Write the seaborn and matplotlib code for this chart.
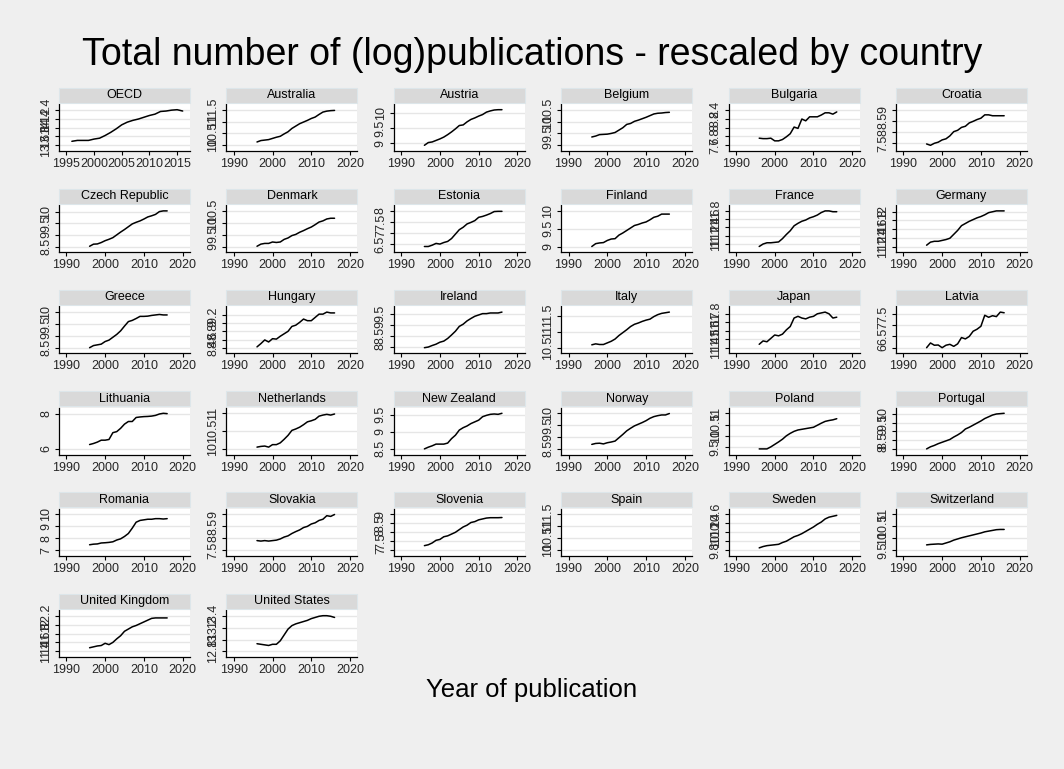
import numpy as np
import pandas as pd
import matplotlib
matplotlib.use("Agg")
import matplotlib.pyplot as plt
from matplotlib.patches import Rectangle
import seaborn as sns

# ---------------------------------------------------------------------------
# Data: log number of publications per year, 1996-2016
# ---------------------------------------------------------------------------
years = list(range(1996, 2017))

countries = [
    "OECD", "Australia", "Austria", "Belgium", "Bulgaria", "Croatia",
    "Czech Republic", "Denmark", "Estonia", "Finland", "France", "Germany",
    "Greece", "Hungary", "Ireland", "Italy", "Japan", "Latvia",
    "Lithuania", "Netherlands", "New Zealand", "Norway", "Poland", "Portugal",
    "Romania", "Slovakia", "Slovenia", "Spain", "Sweden", "Switzerland",
    "United Kingdom", "United States",
]

oecd = [13.69, 13.71, 13.71, 13.71, 13.74, 13.76, 13.82, 13.89, 13.97, 14.06, 14.12,
        14.16, 14.19, 14.23, 14.27, 14.30, 14.36, 14.37, 14.39, 14.40, 14.37]
australia = [10.14, 10.20, 10.22, 10.24, 10.29, 10.34, 10.38, 10.48, 10.57, 10.71, 10.81,
             10.91, 10.98, 11.05, 11.13, 11.19, 11.30, 11.40, 11.44, 11.46, 11.47]
austria = [8.93, 9.02, 9.04, 9.09, 9.14, 9.20, 9.28, 9.37, 9.47, 9.58, 9.60,
           9.70, 9.78, 9.83, 9.89, 9.94, 10.02, 10.06, 10.09, 10.10, 10.10]
belgium = [9.35, 9.39, 9.45, 9.46, 9.47, 9.50, 9.54, 9.64, 9.74, 9.88, 9.92,
           10.01, 10.06, 10.12, 10.18, 10.25, 10.32, 10.35, 10.36, 10.38, 10.39]
bulgaria = [7.76, 7.75, 7.75, 7.76, 7.70, 7.70, 7.73, 7.79, 7.86, 8.01, 7.98,
            8.19, 8.15, 8.24, 8.24, 8.24, 8.28, 8.33, 8.33, 8.30, 8.35]
croatia = [7.47, 7.41, 7.50, 7.55, 7.65, 7.70, 7.83, 8.02, 8.08, 8.21, 8.26,
           8.41, 8.48, 8.56, 8.62, 8.77, 8.77, 8.73, 8.73, 8.73, 8.73]
czech_republic = [8.51, 8.60, 8.61, 8.67, 8.75, 8.81, 8.88, 9.00, 9.12, 9.23, 9.35,
                  9.47, 9.54, 9.60, 9.68, 9.77, 9.82, 9.88, 10.00, 10.03, 10.03]
denmark = [9.01, 9.10, 9.13, 9.13, 9.19, 9.17, 9.19, 9.30, 9.36, 9.46, 9.51,
           9.60, 9.67, 9.75, 9.82, 9.92, 10.03, 10.08, 10.16, 10.19, 10.19]
estonia = [6.39, 6.39, 6.45, 6.53, 6.50, 6.57, 6.62, 6.75, 6.95, 7.15, 7.26,
           7.41, 7.48, 7.56, 7.71, 7.75, 7.81, 7.88, 7.97, 7.98, 7.98]
finland = [9.00, 9.08, 9.10, 9.11, 9.17, 9.21, 9.22, 9.32, 9.38, 9.45, 9.52,
           9.59, 9.62, 9.66, 9.69, 9.75, 9.82, 9.85, 9.91, 9.91, 9.91]
france = [10.94, 11.00, 11.03, 11.03, 11.04, 11.05, 11.13, 11.23, 11.32, 11.44, 11.50,
          11.55, 11.58, 11.63, 11.66, 11.70, 11.76, 11.80, 11.80, 11.78, 11.78]
germany = [11.23, 11.30, 11.32, 11.32, 11.34, 11.36, 11.39, 11.48, 11.57, 11.68, 11.73,
           11.78, 11.82, 11.86, 11.89, 11.93, 11.98, 12.00, 12.02, 12.02, 12.02]
greece = [8.50, 8.59, 8.62, 8.65, 8.76, 8.82, 8.94, 9.06, 9.21, 9.41, 9.60,
          9.65, 9.73, 9.82, 9.82, 9.83, 9.86, 9.88, 9.90, 9.88, 9.88]
hungary = [8.42, 8.50, 8.59, 8.54, 8.62, 8.61, 8.68, 8.74, 8.80, 8.92, 8.95,
           9.02, 9.10, 9.06, 9.06, 9.14, 9.22, 9.22, 9.27, 9.25, 9.25]
ireland = [7.95, 7.98, 8.05, 8.11, 8.20, 8.25, 8.37, 8.53, 8.70, 8.92, 9.02,
           9.17, 9.28, 9.38, 9.44, 9.50, 9.50, 9.53, 9.53, 9.53, 9.57]
italy = [10.59, 10.62, 10.60, 10.60, 10.65, 10.70, 10.77, 10.88, 10.97, 11.06, 11.16,
         11.23, 11.27, 11.32, 11.36, 11.39, 11.47, 11.53, 11.57, 11.59, 11.61]
japan = [11.44, 11.48, 11.47, 11.51, 11.55, 11.54, 11.56, 11.61, 11.65, 11.75, 11.77,
         11.75, 11.74, 11.76, 11.77, 11.80, 11.81, 11.82, 11.80, 11.75, 11.76]
latvia = [6.00, 6.21, 6.11, 6.12, 6.00, 6.11, 6.15, 6.06, 6.17, 6.45, 6.39,
          6.50, 6.73, 6.82, 6.95, 7.44, 7.35, 7.42, 7.38, 7.58, 7.55]
lithuania = [6.25, 6.31, 6.39, 6.50, 6.50, 6.54, 6.93, 6.99, 7.18, 7.42, 7.57,
             7.57, 7.80, 7.83, 7.85, 7.86, 7.88, 7.92, 8.00, 8.04, 8.02]
netherlands = [10.05, 10.07, 10.08, 10.05, 10.12, 10.12, 10.17, 10.27, 10.38, 10.52, 10.56,
               10.61, 10.68, 10.76, 10.79, 10.83, 10.92, 10.95, 10.97, 10.95, 10.98]
new_zealand = [8.50, 8.55, 8.59, 8.64, 8.64, 8.64, 8.67, 8.80, 8.90, 9.05, 9.12,
               9.17, 9.24, 9.29, 9.34, 9.44, 9.48, 9.51, 9.52, 9.51, 9.54]
norway = [8.69, 8.73, 8.74, 8.71, 8.76, 8.79, 8.83, 8.97, 9.11, 9.26, 9.37,
          9.47, 9.54, 9.61, 9.69, 9.79, 9.86, 9.90, 9.93, 9.93, 9.99]
poland = [9.42, 9.42, 9.42, 9.51, 9.62, 9.73, 9.85, 10.00, 10.11, 10.20, 10.26,
          10.29, 10.32, 10.35, 10.38, 10.47, 10.56, 10.64, 10.68, 10.71, 10.76]
portugal = [8.00, 8.12, 8.20, 8.30, 8.38, 8.46, 8.54, 8.68, 8.80, 8.94, 9.14,
            9.24, 9.36, 9.48, 9.60, 9.74, 9.84, 9.94, 10.00, 10.02, 10.04]
romania = [7.45, 7.50, 7.52, 7.60, 7.62, 7.65, 7.70, 7.85, 7.95, 8.15, 8.40,
           8.85, 9.35, 9.50, 9.55, 9.60, 9.60, 9.65, 9.65, 9.62, 9.65]
slovakia = [7.90, 7.88, 7.90, 7.88, 7.90, 7.92, 7.97, 8.05, 8.10, 8.20, 8.28,
            8.35, 8.45, 8.50, 8.60, 8.65, 8.75, 8.80, 8.95, 8.92, 9.00]
slovenia = [7.25, 7.30, 7.40, 7.55, 7.60, 7.75, 7.80, 7.90, 8.00, 8.15, 8.30,
            8.40, 8.55, 8.60, 8.70, 8.75, 8.80, 8.82, 8.82, 8.82, 8.83]
spain = [np.nan] * 21
sweden = [9.85, 9.88, 9.90, 9.91, 9.92, 9.93, 9.97, 10.00, 10.05, 10.10, 10.13,
          10.17, 10.22, 10.27, 10.32, 10.38, 10.43, 10.50, 10.54, 10.56, 10.58]
switzerland = [9.72, 9.74, 9.75, 9.76, 9.75, 9.80, 9.85, 9.92, 9.97, 10.02, 10.06,
               10.10, 10.14, 10.18, 10.22, 10.27, 10.30, 10.33, 10.36, 10.37, 10.37]
united_kingdom = [11.48, 11.50, 11.52, 11.53, 11.58, 11.55, 11.60, 11.68, 11.75, 11.85, 11.90,
                  11.95, 11.98, 12.02, 12.06, 12.10, 12.14, 12.15, 12.15, 12.15, 12.15]
united_states = [12.93, 12.92, 12.91, 12.90, 12.92, 12.92, 12.98, 13.08, 13.18, 13.24, 13.27,
                 13.29, 13.31, 13.33, 13.36, 13.38, 13.40, 13.41, 13.41, 13.40, 13.38]

series = [oecd, australia, austria, belgium, bulgaria, croatia,
          czech_republic, denmark, estonia, finland, france, germany,
          greece, hungary, ireland, italy, japan, latvia,
          lithuania, netherlands, new_zealand, norway, poland, portugal,
          romania, slovakia, slovenia, spain, sweden, switzerland,
          united_kingdom, united_states]

# y-axis tick values of each panel (each panel has its own scale)
y_ticks = [
    [13.6, 13.8, 14, 14.2, 14.4], [10, 10.5, 11, 11.5], [9, 9.5, 10],
    [9, 9.5, 10, 10.5], [7.6, 7.8, 8, 8.2, 8.4], [7.5, 8, 8.5, 9],
    [8.5, 9, 9.5, 10], [9, 9.5, 10, 10.5], [6.5, 7, 7.5, 8],
    [9, 9.5, 10], [11, 11.2, 11.4, 11.6, 11.8], [11.2, 11.4, 11.6, 11.8, 12],
    [8.5, 9, 9.5, 10], [8.4, 8.6, 8.8, 9, 9.2], [8, 8.5, 9, 9.5],
    [10.5, 11, 11.5], [11.4, 11.5, 11.6, 11.7, 11.8], [6, 6.5, 7, 7.5],
    [6, 8], [10, 10.5, 11], [8.5, 9, 9.5],
    [8.5, 9, 9.5, 10], [9.5, 10, 10.5, 11], [8, 8.5, 9, 9.5, 10],
    [7, 8, 9, 10], [7.5, 8, 8.5, 9], [7, 7.5, 8, 8.5, 9],
    [10, 10.5, 11, 11.5], [9.8, 10, 10.2, 10.4, 10.6], [9.5, 10, 10.5, 11],
    [11.4, 11.6, 11.8, 12, 12.2], [12.8, 13, 13.2, 13.4],
]

x_ticks_oecd = [1995, 2000, 2005, 2010, 2015]
x_ticks_country = [1990, 2000, 2010, 2020]

title = "Total number of (log)publications - rescaled by country"
x_title = "Year of publication"

# long-format table for seaborn
df = pd.DataFrame({
    "country": np.repeat(countries, len(years)),
    "year": np.tile(years, len(countries)),
    "logpubs": np.concatenate([np.asarray(s, dtype=float) for s in series]),
})

# ---------------------------------------------------------------------------
# Styling
# ---------------------------------------------------------------------------
sns.set_style("white")
plt.rcParams["font.family"] = ["Liberation Sans", "DejaVu Sans"]

BG = "#efefef"
STRIP = "#d9d9d9"
STRIP_EDGE = "#dde6ea"
GRID = "#e6e6e6"

W, H = 1064, 769
fig = plt.figure(figsize=(W / 100, H / 100), dpi=100, facecolor=BG)


def fx(px):
    return px / W


def fy(py):
    return 1 - py / H


ncols = 6
col_step = 167.4
row_step = 101.2
ax_left0, ax_w = 59, 131
ax_top0, ax_h = 104, 47
strip_h = 15
strip_gap = 1.5

for i, country in enumerate(countries):
    r, c = divmod(i, ncols)
    left = ax_left0 + c * col_step
    top = ax_top0 + r * row_step
    ax = fig.add_axes([fx(left), fy(top + ax_h), ax_w / W, ax_h / H])
    ax.set_facecolor("white")

    sub = df[df["country"] == country].dropna()
    if len(sub):
        sns.lineplot(data=sub, x="year", y="logpubs", ax=ax,
                     color="black", linewidth=1.1, legend=False)

    # axis ranges with a small margin around ticks and data
    xt = x_ticks_oecd if country == "OECD" else x_ticks_country
    x_lo, x_hi = min(xt[0], years[0]), max(xt[-1], years[-1])
    x_m = 0.063 * (x_hi - x_lo)
    ax.set_xlim(x_lo - x_m, x_hi + x_m)

    yt = y_ticks[i]
    vals = sub["logpubs"].values
    y_lo = min([yt[0]] + list(vals))
    y_hi = max([yt[-1]] + list(vals))
    y_m = 0.16 * (y_hi - y_lo)
    ax.set_ylim(y_lo - y_m, y_hi + y_m)

    ax.set_xticks(xt)
    ax.set_xticklabels([str(v) for v in xt])
    ax.set_yticks(yt)
    ax.set_yticklabels([f"{v:g}" for v in yt], rotation=90, va="center")

    ax.grid(axis="y", color=GRID, linewidth=1.0)
    ax.grid(axis="x", visible=False)
    ax.set_axisbelow(True)
    for side in ("top", "right"):
        ax.spines[side].set_visible(False)
    for side in ("left", "bottom"):
        ax.spines[side].set_color("black")
        ax.spines[side].set_linewidth(0.9)
    ax.tick_params(axis="both", which="major", direction="out", length=3,
                   width=0.8, color="black", labelsize=9, pad=2,
                   left=True, bottom=True)
    ax.set_xlabel("")
    ax.set_ylabel("")

    # panel header strip
    s_top = top - strip_gap - strip_h
    fig.patches.append(Rectangle((fx(left), fy(top - strip_gap)), ax_w / W, strip_h / H,
                                 transform=fig.transFigure, facecolor=STRIP,
                                 edgecolor=STRIP_EDGE, linewidth=0.8))
    fig.text(fx(left + ax_w / 2), fy(s_top + strip_h / 2), country,
             ha="center", va="center", fontsize=9, color="black")

fig.text(0.5, fy(55), title, ha="center", va="center", fontsize=27, color="black")
fig.text(0.5, fy(690), x_title, ha="center", va="center", fontsize=18.5, color="black")

fig.savefig("out.png", dpi=100, facecolor=BG)
